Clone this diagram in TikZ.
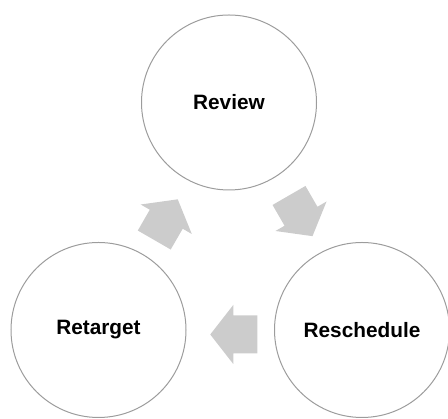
\documentclass[tikz,border=0pt]{standalone}
\usepackage{fontspec}
\setmainfont{Liberation Sans}
\usepackage{xcolor}
\usepackage{tikz}
\usetikzlibrary{positioning,calc}

\definecolor{ringgray}{HTML}{9C9C9C}
\definecolor{arrowgray}{HTML}{CCCCCC}

\tikzset{
  stage/.style={draw=ringgray, line width=1pt, circle, minimum size=175pt,
    inner sep=0pt, font=\fontsize{20.8}{24}\selectfont\bfseries},
  blockarrow/.pic={
    \fill[arrowgray] (-24,-19) -- (0,-19) -- (0,-29.5) -- (23,0) -- (0,29.5) -- (0,19) -- (-24,19) -- cycle;
  }
}

\begin{document}
\begin{tikzpicture}[x=1pt,y=1pt]
    \useasboundingbox (0,0) rectangle (448,419);

    % Circles
    \node [stage] (review) at (229,316.5) {Review};
    \node [stage] (retarget) at (98.5,89) {Retarget};
    \node [stage] (reschedule) at (362,89) {Reschedule};

    % Arrows
    \pic [rotate=-60] at ($(review)!0.5!(reschedule)+(5.5,0)$) {blockarrow};
    \pic [rotate=180] at ($(reschedule)!0.5!(retarget)+(3,-4.5)$) {blockarrow};
    \pic [rotate=60] at ($(retarget)!0.5!(review)+(2.5,-3)$) {blockarrow};
  \end{tikzpicture}
\end{document}
